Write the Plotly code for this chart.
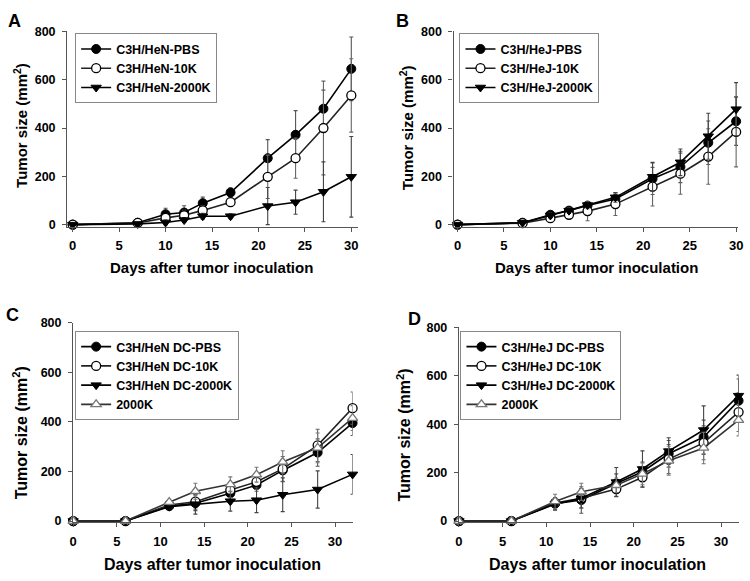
import plotly.graph_objects as go

# ---------------- data ----------------
days_ab = [0, 7, 10, 12, 14, 17, 21, 24, 27, 30]
days_cd = [0, 6, 11, 14, 18, 21, 24, 28, 32]

# Panel A
a_pbs = [0, 8, 43, 50, 89, 133, 275, 372, 480, 645]
a_pbs_err = [0, 3, 25, 28, 25, 20, 77, 100, 77, 132]
a_10k = [0, 7, 28, 39, 59, 93, 198, 275, 400, 535]
a_10k_err = [0, 3, 15, 20, 20, 15, 90, 83, 194, 152]
a_2000k = [0, 3, 9, 19, 35, 35, 77, 93, 136, 198]
a_2000k_err = [0, 2, 10, 10, 12, 10, 77, 50, 124, 167]

# Panel B
b_pbs = [0, 8, 41, 58, 79, 106, 190, 239, 339, 428]
b_pbs_err = [0, 3, 12, 15, 15, 25, 65, 65, 90, 100]
b_10k = [0, 6, 27, 41, 56, 85, 157, 211, 282, 384]
b_10k_err = [0, 3, 10, 15, 40, 47, 80, 85, 115, 145]
b_2000k = [0, 8, 38, 58, 81, 113, 198, 258, 366, 478]
b_2000k_err = [0, 3, 10, 12, 15, 20, 60, 55, 95, 110]

# Panel C
c_pbs = [0, 0, 60, 72, 112, 145, 204, 276, 395]
c_pbs_err = [0, 0, 12, 30, 25, 25, 45, 55, 50]
c_10k = [0, 0, 65, 78, 125, 158, 210, 305, 455]
c_10k_err = [0, 0, 10, 30, 30, 30, 50, 65, 65]
c_2000k = [0, 0, 58, 68, 80, 84, 106, 127, 188]
c_2000k_err = [0, 0, 10, 40, 40, 50, 68, 75, 80]
c_2000k_only = [0, 0, 76, 120, 148, 187, 238, 295, 415]
c_2000k_only_err = [0, 0, 10, 32, 30, 30, 45, 60, 50]

# Panel D
d_pbs = [0, 0, 72, 87, 155, 204, 278, 347, 497]
d_pbs_err = [0, 0, 25, 55, 40, 40, 55, 70, 90]
d_10k = [0, 0, 75, 94, 132, 181, 256, 323, 450]
d_10k_err = [0, 0, 20, 40, 30, 40, 60, 70, 80]
d_2000k = [0, 0, 70, 94, 161, 215, 289, 376, 518]
d_2000k_err = [0, 0, 25, 40, 60, 75, 55, 100, 85]
d_2000k_only = [0, 0, 81, 121, 148, 195, 249, 302, 417]
d_2000k_only_err = [0, 0, 30, 35, 30, 45, 60, 65, 65]

names_a = ["C3H/HeN-PBS", "C3H/HeN-10K", "C3H/HeN-2000K"]
names_b = ["C3H/HeJ-PBS", "C3H/HeJ-10K", "C3H/HeJ-2000K"]
names_c = ["C3H/HeN DC-PBS", "C3H/HeN DC-10K", "C3H/HeN DC-2000K", "2000K"]
names_d = ["C3H/HeJ DC-PBS", "C3H/HeJ DC-10K", "C3H/HeJ DC-2000K", "2000K"]
panel_letters = ["A", "B", "C", "D"]
x_ticks = [0, 5, 10, 15, 20, 25, 30]
y_ticks = [0, 200, 400, 600, 800]

W, H = 750, 581
FONT = "Arial, Liberation Sans, sans-serif"

styles = [
    dict(symbol="circle", color="black", line=dict(color="black", width=1)),
    dict(symbol="circle", color="white", line=dict(color="black", width=1.3)),
    dict(symbol="triangle-down", color="black", line=dict(color="black", width=1)),
    dict(symbol="triangle-up", color="white", line=dict(color="#777", width=1.3)),
]
line_cols = ["black", "#222", "black", "#333"]
err_cols = ["#555", "#666", "#444", "#777"]

fig = go.Figure()

panels = [
    ("", "", "legend", days_ab, [(a_pbs, a_pbs_err), (a_10k, a_10k_err), (a_2000k, a_2000k_err)], names_a),
    ("2", "2", "legend2", days_ab, [(b_pbs, b_pbs_err), (b_10k, b_10k_err), (b_2000k, b_2000k_err)], names_b),
    ("3", "3", "legend3", days_cd, [(c_pbs, c_pbs_err), (c_10k, c_10k_err), (c_2000k, c_2000k_err), (c_2000k_only, c_2000k_only_err)], names_c),
    ("4", "4", "legend4", days_cd, [(d_pbs, d_pbs_err), (d_10k, d_10k_err), (d_2000k, d_2000k_err), (d_2000k_only, d_2000k_only_err)], names_d),
]

for xs, ys, leg, days, series, names in panels:
    for i, ((vals, errs), nm) in enumerate(zip(series, names)):
        fig.add_trace(go.Scatter(
            x=days, y=vals, name=nm, mode="lines+markers",
            xaxis="x" + xs, yaxis="y" + ys, legend=leg, cliponaxis=False,
            line=dict(color=line_cols[i], width=1.6),
            marker=dict(size=9, **styles[i]),
            error_y=dict(type="data", array=errs, visible=True,
                         color=err_cols[i], thickness=1.1, width=2),
        ))

def px_x(p):
    return p / W

def px_y(p):
    return 1 - p / H

# axis geometry in pixels: (x0, x1, y_top, y_bottom, xrange, yrange)
geo = [
    (64, 358, 25, 225, [-0.59, 30.69], [-8, 800]),
    (455, 743, 25, 225, [-0.43, 30.21], [-8, 800]),
    (70, 352.8, 323.3, 527.5, [0, 32], [-3, 800]),
    (460.5, 743.5, 328.3, 527.5, [0, 32], [-3, 800]),
]
tick_sizes = [13, 13, 13, 13]
title_sizes = [15, 15, 16, 16]

layout = dict(
    width=W, height=H, autosize=False,
    margin=dict(l=0, r=0, t=0, b=0),
    paper_bgcolor="white", plot_bgcolor="white",
    font=dict(family=FONT, color="black"),
)
for k, (x0, x1, yt, yb, xr, yr) in enumerate(geo):
    sfx = "" if k == 0 else str(k + 1)
    layout["xaxis" + sfx] = dict(
        domain=[px_x(x0), px_x(x1)], range=xr, anchor="y" + sfx,
        tickvals=x_ticks, ticks="outside", ticklen=4, tickcolor="#555",
        showline=True, linecolor="#555", linewidth=1.3, showgrid=False, zeroline=False,
        tickfont=dict(size=tick_sizes[k], family=FONT, weight="bold", color="black"),
        ticklabelstandoff=3, ticklabeloverflow="allow",
    )
    layout["yaxis" + sfx] = dict(
        domain=[px_y(yb), px_y(yt)], range=yr, anchor="x" + sfx,
        tickvals=y_ticks, ticks="outside", ticklen=4, tickcolor="#555",
        showline=True, linecolor="#555", linewidth=1.3, showgrid=False, zeroline=False,
        tickfont=dict(size=12.5, family=FONT, weight="bold", color="black"),
        ticklabelstandoff=4,
    )

legend_pos = [(72, 27), (461, 27), (72, 332), (462, 332)]
for k, (lx, ly) in enumerate(legend_pos):
    key = "legend" if k == 0 else "legend" + str(k + 1)
    layout[key] = dict(
        x=px_x(lx), y=px_y(ly), xanchor="left", yanchor="top",
        bgcolor="white", bordercolor="#888", borderwidth=1,
        font=dict(size=12.5, family=FONT, weight="bold", color="black"),
        tracegroupgap=0, itemwidth=30,
    )

fig.update_layout(**layout)

# annotations: panel letters and axis titles
letter_pos = [(2, 2), (395, 2), (0, 303), (407, 307)]
for (lx, ly), letter in zip(letter_pos, panel_letters):
    fig.add_annotation(text="<b>" + letter + "</b>", x=px_x(lx), y=px_y(ly),
                       xref="paper", yref="paper", xanchor="left", yanchor="top",
                       showarrow=False, font=dict(size=18, family=FONT, color="black"))

xt_pos = [(210, 267), (600, 267), (211, 571), (601, 571)]
yt_pos = [(16, 121), (407, 124), (17, 436), (405, 439)]
for k in range(4):
    fig.add_annotation(text="<b>Days after tumor inoculation</b>",
                       x=px_x(xt_pos[k][0]), y=px_y(xt_pos[k][1]),
                       xref="paper", yref="paper", xanchor="center", yanchor="middle",
                       showarrow=False, font=dict(size=title_sizes[k], family=FONT, color="black"))
    fig.add_annotation(text="<b>Tumor size (mm<sup>2</sup>)</b>",
                       x=px_x(yt_pos[k][0]), y=px_y(yt_pos[k][1]), textangle=-90,
                       xref="paper", yref="paper", xanchor="center", yanchor="middle",
                       showarrow=False, font=dict(size=title_sizes[k], family=FONT, color="black"))

fig.write_html("out.html", config={"displayModeBar": False},
               post_script="document.body.style.margin='0';document.body.style.overflow='hidden';")
